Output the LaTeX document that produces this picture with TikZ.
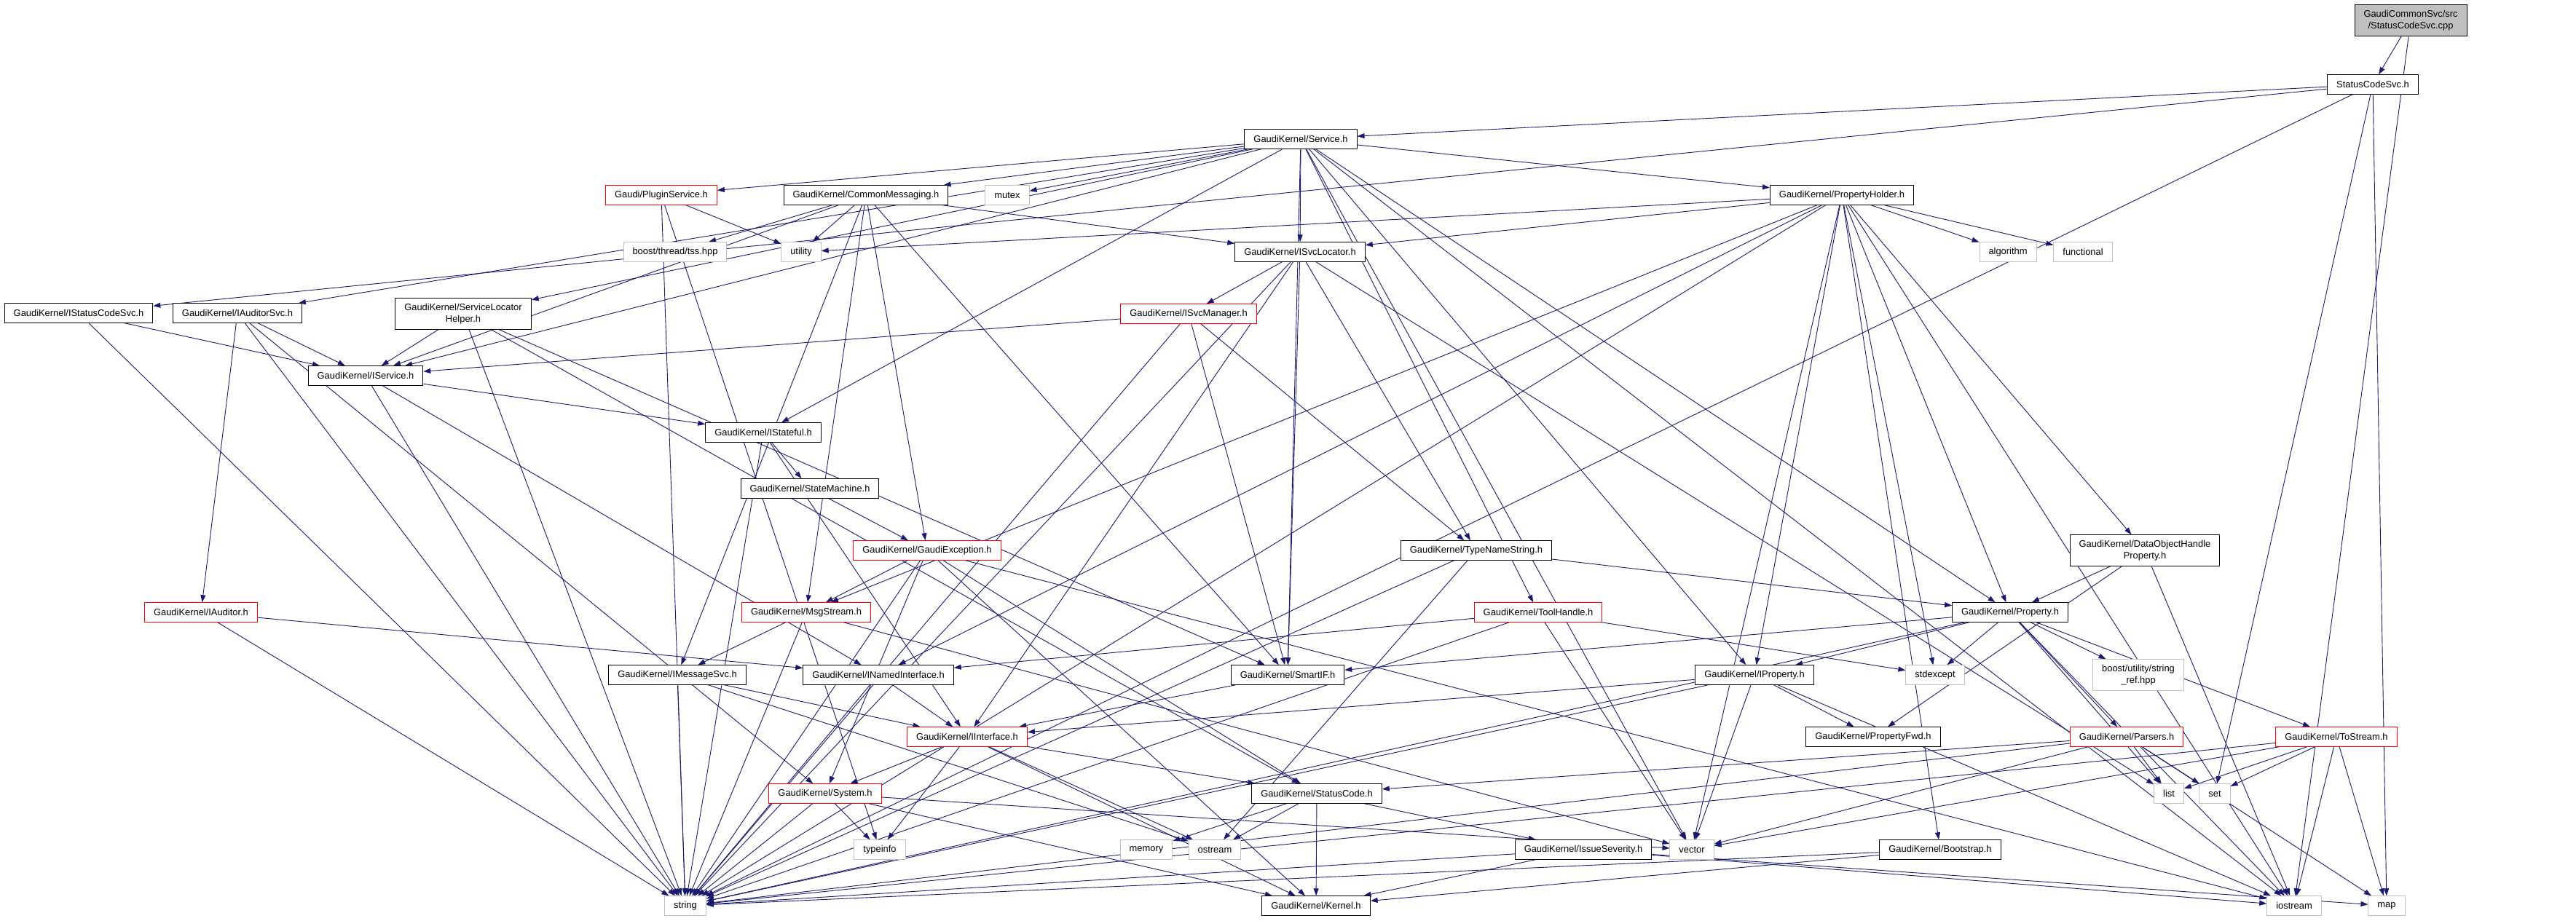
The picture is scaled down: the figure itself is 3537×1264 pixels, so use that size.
\documentclass[tikz,border=0pt]{standalone}
\usepackage{fontspec}
\newfontfamily\dotfont{Liberation Sans}
\usetikzlibrary{arrows.meta,backgrounds}
\definecolor{edgeblue}{HTML}{191970}
\definecolor{sysgray}{HTML}{BFBFBF}
\tikzset{
  hdr/.style={draw=black, fill=white, line width=1pt, inner xsep=12.5pt, inner ysep=0pt,
    minimum height=26.5pt, align=center, font=\dotfont\fontsize{12.9}{15.7}\selectfont},
  redhdr/.style={hdr, draw=red},
  syshdr/.style={hdr, draw=sysgray},
  roothdr/.style={hdr, fill=sysgray},
  tall/.style={minimum height=42.5pt},
  dep/.style={draw=edgeblue, line width=0.9pt, -{Triangle[length=10pt,width=7pt]}}
}
\begin{document}
\begin{tikzpicture}[x=1pt,y=-1pt]
	\useasboundingbox (0,0) rectangle (3537,1264);
	% rank 0 - 2
	\node[roothdr,tall] (root) at (3310,28) {GaudiCommonSvc/src\\/StatusCodeSvc.cpp};
	\node[hdr] (scsh) at (3258,116) {StatusCodeSvc.h};
	\node[hdr] (service) at (1786,191) {GaudiKernel/Service.h};
	% rank 3
	\node[redhdr] (plugin) at (908,268) {Gaudi/PluginService.h};
	\node[hdr] (commsg) at (1189,268) {GaudiKernel/CommonMessaging.h};
	\node[syshdr] (mutex) at (1383,268) {mutex};
	\node[hdr] (propholder) at (2529,268) {GaudiKernel/PropertyHolder.h};
	% rank 4
	\node[syshdr] (tss) at (927,346) {boost/thread/tss.hpp};
	\node[syshdr] (utility) at (1100,346) {utility};
	\node[hdr] (isvcloc) at (1785,346) {GaudiKernel/ISvcLocator.h};
	\node[syshdr] (algorithm) at (2757,346) {algorithm};
	\node[syshdr] (functional) at (2860,346) {functional};
	% rank 5
	\node[hdr] (istatsvc) at (108,430) {GaudiKernel/IStatusCodeSvc.h};
	\node[hdr] (iaudsvc) at (326,430) {GaudiKernel/IAuditorSvc.h};
	\node[hdr,tall] (slhelper) at (636,431) {GaudiKernel/ServiceLocator\\Helper.h};
	\node[redhdr] (isvcman) at (1632,431) {GaudiKernel/ISvcManager.h};
	% rank 6 - 9
	\node[hdr] (iservice) at (502,516) {GaudiKernel/IService.h};
	\node[hdr] (istateful) at (1048,594) {GaudiKernel/IStateful.h};
	\node[hdr] (statemach) at (1112,671) {GaudiKernel/StateMachine.h};
	\node[redhdr] (gexc) at (1273,756) {GaudiKernel/GaudiException.h};
	\node[hdr] (typename) at (2027,756) {GaudiKernel/TypeNameString.h};
	\node[hdr,tall] (dohp) at (2945,756) {GaudiKernel/DataObjectHandle\\Property.h};
	% rank 10
	\node[redhdr] (iauditor) at (276,841) {GaudiKernel/IAuditor.h};
	\node[redhdr] (msgstream) at (1107,841) {GaudiKernel/MsgStream.h};
	\node[redhdr] (toolhandle) at (2112,841) {GaudiKernel/ToolHandle.h};
	\node[hdr] (property) at (2760,841) {GaudiKernel/Property.h};
	% rank 11
	\node[hdr] (imsgsvc) at (930,927) {GaudiKernel/IMessageSvc.h};
	\node[hdr] (inamed) at (1206,927) {GaudiKernel/INamedInterface.h};
	\node[hdr] (smartif) at (1768,927) {GaudiKernel/SmartIF.h};
	\node[hdr] (iproperty) at (2409,927) {GaudiKernel/IProperty.h};
	\node[syshdr] (stdexcept) at (2657,927) {stdexcept};
	\node[syshdr,tall] (stringref) at (2936,927) {boost/utility/string\\\_ref.hpp};
	% rank 12
	\node[redhdr] (iinterface) at (1328,1012) {GaudiKernel/IInterface.h};
	\node[hdr] (propfwd) at (2572,1012) {GaudiKernel/PropertyFwd.h};
	\node[redhdr] (parsers) at (2920,1012) {GaudiKernel/Parsers.h};
	\node[redhdr] (tostream) at (3208,1012) {GaudiKernel/ToStream.h};
	% rank 13
	\node[redhdr] (system) at (1133,1090) {GaudiKernel/System.h};
	\node[hdr] (statuscode) at (1808,1090) {GaudiKernel/StatusCode.h};
	\node[syshdr] (list) at (2978,1090) {list};
	\node[syshdr] (set) at (3041,1090) {set};
	% rank 14
	\node[syshdr] (typeinfo) at (1208,1167) {typeinfo};
	\node[syshdr] (memory) at (1574,1167) {memory};
	\node[syshdr] (ostream) at (1668,1167) {ostream};
	\node[hdr] (issue) at (2174,1167) {GaudiKernel/IssueSeverity.h};
	\node[syshdr] (vector) at (2323,1167) {vector};
	\node[hdr] (bootstrap) at (2664,1167) {GaudiKernel/Bootstrap.h};
	% rank 15
	\node[syshdr] (string) at (941,1244) {string};
	\node[hdr] (kernel) at (1807,1244) {GaudiKernel/Kernel.h};
	\node[syshdr] (iostream) at (3150,1244) {iostream};
	\node[syshdr] (map) at (3277,1244) {map};
	% include edges
	\begin{scope}[on background layer]
		\foreach \a/\b in {root/scsh, root/iostream,
			scsh/istatsvc, scsh/service, scsh/set, scsh/string, scsh/map,
			service/plugin, service/commsg, service/mutex, service/iaudsvc, service/iservice,
			service/slhelper, service/isvcloc, service/istateful, service/smartif, service/propholder,
			service/iproperty, service/property, service/toolhandle, service/vector, service/iostream,
			plugin/utility, plugin/string, plugin/typeinfo,
			commsg/iservice, commsg/isvcloc, commsg/imsgsvc, commsg/msgstream, commsg/smartif,
			commsg/gexc, commsg/tss, commsg/utility,
			propholder/utility, propholder/isvcloc, propholder/msgstream, propholder/inamed,
			propholder/algorithm, propholder/functional, propholder/stdexcept, propholder/string,
			propholder/vector, propholder/iproperty, propholder/property, propholder/bootstrap,
			propholder/dohp, propholder/iostream,
			isvcloc/string, isvcloc/isvcman, isvcloc/smartif, isvcloc/typename, isvcloc/iinterface, isvcloc/list,
			isvcman/iservice, isvcman/smartif, isvcman/typename, isvcman/string,
			istatsvc/iservice, istatsvc/string,
			iaudsvc/iservice, iaudsvc/iauditor, iaudsvc/string, iaudsvc/system,
			slhelper/iservice, slhelper/string, slhelper/smartif, slhelper/statuscode,
			iservice/istateful, iservice/inamed, iservice/string,
			istateful/statemach, istateful/iinterface, istateful/string,
			statemach/gexc,
			gexc/msgstream, gexc/string, gexc/system, gexc/statuscode, gexc/kernel, gexc/iostream,
			typename/property, typename/ostream, typename/string,
			dohp/property, dohp/propfwd, dohp/iostream,
			iauditor/inamed, iauditor/string,
			msgstream/imsgsvc, msgstream/string, msgstream/vector,
			toolhandle/inamed, toolhandle/stdexcept, toolhandle/string, toolhandle/vector,
			property/iproperty, property/smartif, property/stdexcept, property/stringref, property/parsers,
			property/tostream, property/list, property/string, property/iostream,
			imsgsvc/iinterface, imsgsvc/string, imsgsvc/ostream,
			inamed/iinterface, inamed/string,
			smartif/iinterface,
			iproperty/iinterface, iproperty/propfwd, iproperty/string, iproperty/vector, iproperty/iostream,
			iinterface/system, iinterface/typeinfo, iinterface/kernel, iinterface/ostream, iinterface/statuscode,
			parsers/statuscode, parsers/string, parsers/map, parsers/list, parsers/set, parsers/vector,
			tostream/list, tostream/set, tostream/string, tostream/vector, tostream/iostream, tostream/map,
			system/typeinfo, system/string, system/kernel, system/vector,
			statuscode/memory, statuscode/ostream, statuscode/issue, statuscode/kernel,
			issue/kernel, issue/string, issue/map, issue/iostream,
			bootstrap/string, bootstrap/kernel}
		\draw[dep] (\a) -- (\b);
	\end{scope}
\end{tikzpicture}
\end{document}
